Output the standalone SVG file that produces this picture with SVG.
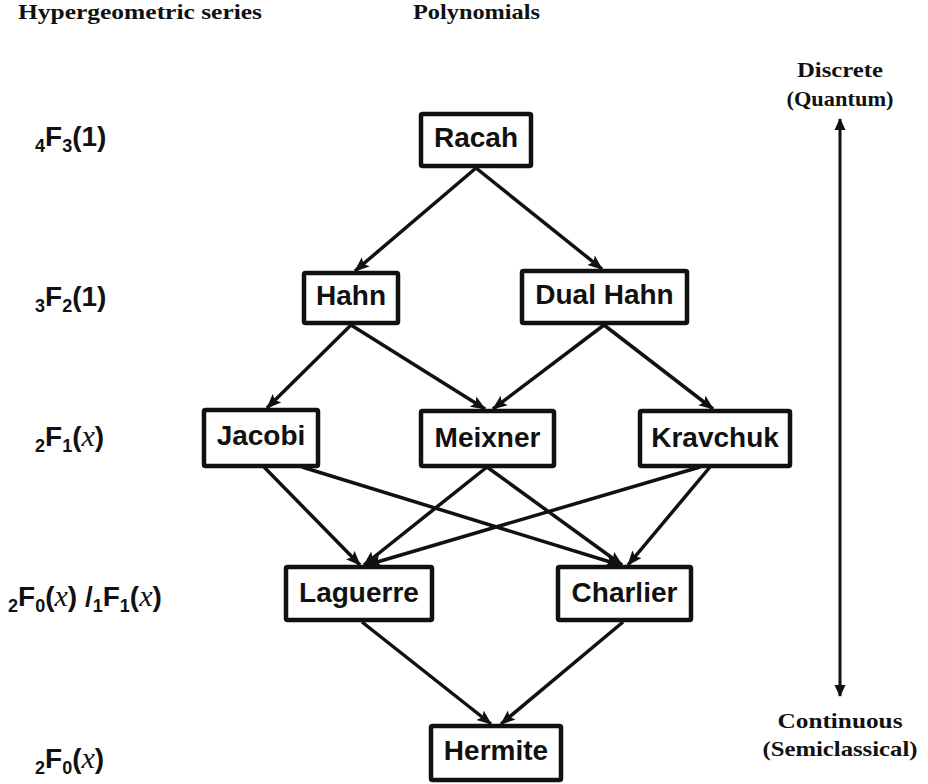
<svg xmlns="http://www.w3.org/2000/svg" width="928" height="784" viewBox="0 0 928 784">
<style>
.box{fill:#fff;stroke:#111;stroke-width:4.5;}
.lbl{font-family:"Liberation Sans",Arial,sans-serif;font-weight:bold;font-size:28px;fill:#111;text-anchor:middle;}
.ser{font-family:"Liberation Sans",Arial,sans-serif;font-weight:bold;font-size:28px;fill:#111;}
.sub{font-size:18px;}
.ix{font-family:"Liberation Serif","Times New Roman",serif;font-style:italic;font-weight:normal;font-size:30px;}
.hd{font-family:"Liberation Serif","Times New Roman",serif;font-weight:bold;font-size:22px;fill:#111;}
.rt{font-family:"Liberation Serif","Times New Roman",serif;font-weight:bold;font-size:22px;fill:#111;}
.con line{stroke:#111;stroke-width:3.5;marker-end:url(#ah);}
.axis{stroke:#111;stroke-width:3;marker-start:url(#ax);marker-end:url(#ax);}
</style>
<defs>
<marker id="ah" markerUnits="userSpaceOnUse" markerWidth="16" markerHeight="13" refX="14" refY="6.5" orient="auto">
<path d="M0,0.5 L15,6.5 L0,12.5 L3,6.5 z" fill="#111"/>
</marker>
<marker id="ax" markerUnits="userSpaceOnUse" markerWidth="12" markerHeight="12" refX="11" refY="6" orient="auto-start-reverse">
<path d="M0,0.5 L12,6 L0,11.5 z" fill="#111"/>
</marker>
</defs>
<rect width="928" height="784" fill="#fff"/>

<g id="headers">
<text class="hd" x="18" y="19" textLength="244" lengthAdjust="spacingAndGlyphs">Hypergeometric series</text>
<text class="hd" x="413" y="19" textLength="127" lengthAdjust="spacingAndGlyphs">Polynomials</text>
</g>

<g id="series">
<text class="ser" x="35" y="146"><tspan class="sub" dy="6">4</tspan><tspan dy="-6">F</tspan><tspan class="sub" dy="6">3</tspan><tspan dy="-6">(1)</tspan></text>
<text class="ser" x="35" y="306"><tspan class="sub" dy="6">3</tspan><tspan dy="-6">F</tspan><tspan class="sub" dy="6">2</tspan><tspan dy="-6">(1)</tspan></text>
<text class="ser" x="35" y="446"><tspan class="sub" dy="6">2</tspan><tspan dy="-6">F</tspan><tspan class="sub" dy="6">1</tspan><tspan dy="-6">(</tspan><tspan class="ix">x</tspan><tspan>)</tspan></text>
<text class="ser" x="8" y="606"><tspan class="sub" dy="6">2</tspan><tspan dy="-6">F</tspan><tspan class="sub" dy="6">0</tspan><tspan dy="-6">(</tspan><tspan class="ix">x</tspan><tspan>) /</tspan><tspan class="sub" dy="6">1</tspan><tspan dy="-6">F</tspan><tspan class="sub" dy="6">1</tspan><tspan dy="-6">(</tspan><tspan class="ix">x</tspan><tspan>)</tspan></text>
<text class="ser" x="35" y="768"><tspan class="sub" dy="6">2</tspan><tspan dy="-6">F</tspan><tspan class="sub" dy="6">0</tspan><tspan dy="-6">(</tspan><tspan class="ix">x</tspan><tspan>)</tspan></text>
</g>

<g id="connectors" class="con">
<line x1="476" y1="168" x2="355" y2="271"/>
<line x1="476" y1="168" x2="602" y2="269"/>
<line x1="351" y1="325" x2="267" y2="408"/>
<line x1="351" y1="325" x2="485" y2="409"/>
<line x1="604" y1="325" x2="493" y2="409"/>
<line x1="604" y1="325" x2="713" y2="409"/>
<line x1="264" y1="467" x2="360" y2="565"/>
<line x1="302" y1="467" x2="620" y2="565"/>
<line x1="487" y1="467" x2="364" y2="565"/>
<line x1="487" y1="467" x2="622" y2="565"/>
<line x1="700" y1="467" x2="367" y2="565"/>
<line x1="710" y1="467" x2="628" y2="565"/>
<line x1="362" y1="622" x2="491" y2="724"/>
<line x1="623" y1="622" x2="501" y2="724"/>
</g>

<g id="racah"><rect class="box" x="421" y="114" width="110" height="52" rx="1.5"/><text class="lbl" x="476" y="147">Racah</text></g>
<g id="hahn"><rect class="box" x="304" y="273" width="94" height="50" rx="1.5"/><text class="lbl" x="351" y="305">Hahn</text></g>
<g id="dualhahn"><rect class="box" x="522" y="271" width="165" height="52" rx="1.5"/><text class="lbl" x="604.5" y="304">Dual Hahn</text></g>
<g id="jacobi"><rect class="box" x="204" y="410" width="114" height="56" rx="1.5"/><text class="lbl" x="261" y="445">Jacobi</text></g>
<g id="meixner"><rect class="box" x="421" y="411" width="133" height="55" rx="1.5"/><text class="lbl" x="487.5" y="447">Meixner</text></g>
<g id="kravchuk"><rect class="box" x="640" y="411" width="150" height="55" rx="1.5"/><text class="lbl" x="715" y="447">Kravchuk</text></g>
<g id="laguerre"><rect class="box" x="286" y="567" width="146" height="53" rx="1.5"/><text class="lbl" x="359" y="602">Laguerre</text></g>
<g id="charlier"><rect class="box" x="558" y="567" width="133" height="53" rx="1.5"/><text class="lbl" x="624.5" y="602">Charlier</text></g>
<g id="hermite"><rect class="box" x="431" y="726" width="130" height="54" rx="1.5"/><text class="lbl" x="496" y="760">Hermite</text></g>

<g id="scale">
<text class="rt" x="840" y="77" text-anchor="middle" textLength="86" lengthAdjust="spacingAndGlyphs">Discrete</text>
<text class="rt" x="840" y="106" text-anchor="middle" textLength="107" lengthAdjust="spacingAndGlyphs">(Quantum)</text>
<line class="axis" x1="840" y1="119" x2="840" y2="696"/>
<text class="rt" x="840" y="728" text-anchor="middle" textLength="125" lengthAdjust="spacingAndGlyphs">Continuous</text>
<text class="rt" x="840" y="756" text-anchor="middle" textLength="155" lengthAdjust="spacingAndGlyphs">(Semiclassical)</text>
</g>
</svg>
